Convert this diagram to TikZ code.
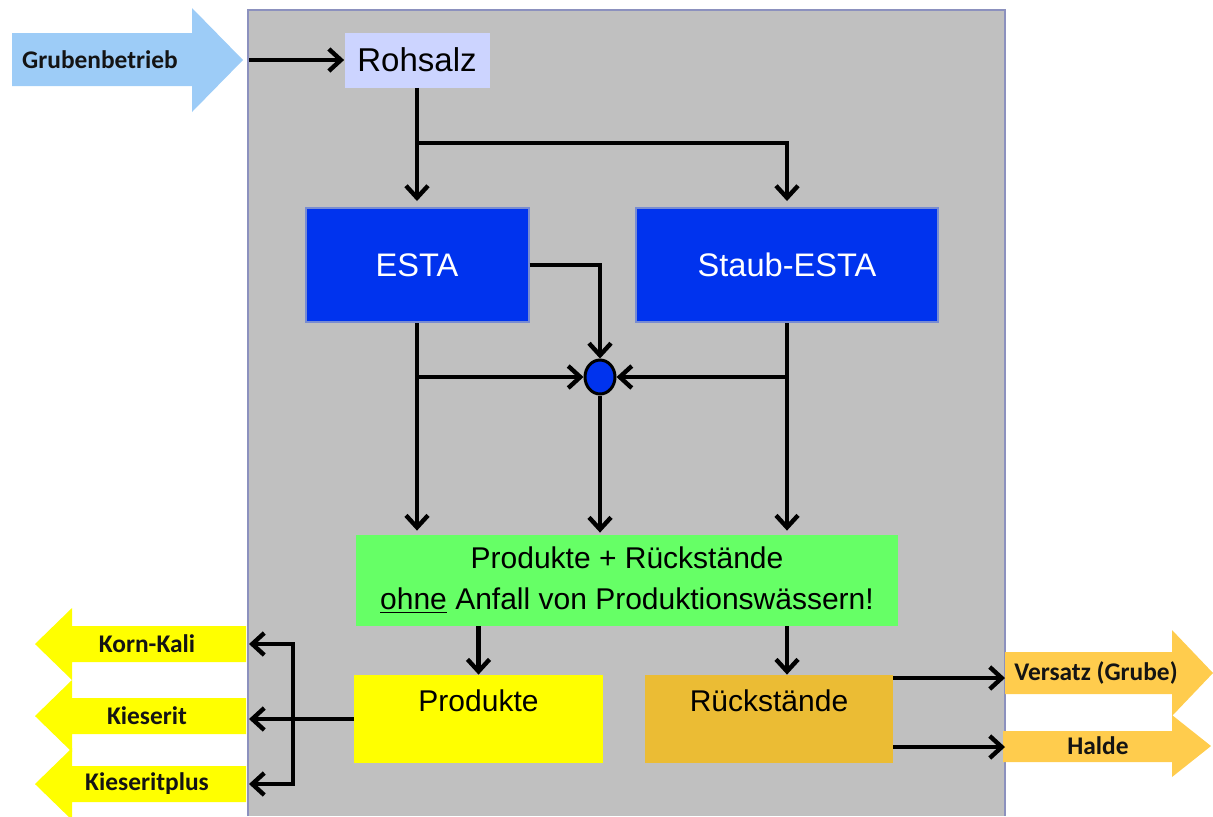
\documentclass[tikz,border=0pt]{standalone}
\usepackage{fontspec}
\setmainfont{Liberation Sans}
\newfontfamily\labelfont{Carlito}
\usepackage{tikz}
\usetikzlibrary{arrows.meta, shapes.geometric, positioning, calc}
\definecolor{panelgray}{RGB}{192,192,192}
\definecolor{frameedge}{RGB}{140,145,190}
\definecolor{inflow}{RGB}{157,204,247}
\definecolor{rohblue}{RGB}{204,212,255}
\definecolor{establue}{RGB}{0,51,238}
\definecolor{estaedge}{RGB}{120,140,210}
\definecolor{mixgreen}{RGB}{102,255,102}
\definecolor{prodyellow}{RGB}{255,255,0}
\definecolor{restgold}{RGB}{235,188,52}
\definecolor{outgold}{RGB}{255,204,77}
\definecolor{labeltext}{RGB}{20,20,20}

\begin{document}
\begin{tikzpicture}[x=0.5pt, y=-0.5pt,
    every node/.style={inner sep=0pt},
    flow/.style={line width=2.2pt, -{Straight Barb[length=6pt,width=11pt,line width=2.2pt]}},
    plain/.style={line width=2.2pt},
    unit/.style={rectangle, minimum height=57pt, fill=establue, draw=estaedge,
                 line width=1pt, text=white, font=\fontsize{16.3}{19}\selectfont},
    result/.style={rectangle, minimum width=124.5pt, text height=18pt, text depth=26pt,
                   font=\fontsize{15}{18}\selectfont},
    tag/.style={font=\labelfont\bfseries\fontsize{12.7}{15}\selectfont, text=labeltext}]

  \useasboundingbox (0,0) rectangle (1213,816);

  % Werk
  \fill[panelgray] (248,10) rectangle (1005,816);
  \draw[frameedge, line width=1pt] (248,816) -- (248,10) -- (1005,10) -- (1005,816);

  % Zulauf aus der Grube
  \fill[inflow] (12,33) -- (192,33) -- (192,8) -- (243,60) -- (192,112) -- (192,86) -- (12,86) -- cycle;
  \node[tag] (grube) at (100,60) {Grubenbetrieb};

  % Produkte nach links
  \foreach \n/\y/\txt in {korn/644/Korn-Kali, kies/716/Kieserit, kplus/784/Kieseritplus}{
    \fill[prodyellow] (246,{\y-18}) -- (72,{\y-18}) -- (72,{\y-36}) -- (35,\y)
      -- (72,{\y+36}) -- (72,{\y+18}) -- (246,{\y+18}) -- cycle;
    \node[tag] (\n) at (147,\y) {\txt};
  }

  % Rueckstaende nach rechts
  \fill[outgold] (1005,652) -- (1172,652) -- (1172,630) -- (1213,673) -- (1172,716) -- (1172,694) -- (1005,694) -- cycle;
  \node[tag] (versatz) at (1096,673) {Versatz (Grube)};
  \fill[outgold] (1003,731) -- (1172,731) -- (1172,715) -- (1211,746) -- (1172,777) -- (1172,762) -- (1003,762) -- cycle;
  \node[tag] (halde) at (1098,746) {Halde};

  % Anlagen
  \node[rectangle, fill=rohblue, minimum width=72.5pt, minimum height=27.5pt,
        font=\fontsize{16.5}{19}\selectfont] (rohsalz) at (417,60) {Rohsalz};
  \node[unit, minimum width=111.5pt] (esta) at (417,265) {ESTA};
  \node[unit, minimum width=151pt] (staub) at (787,265) {Staub-ESTA};
  \node[ellipse, fill=establue, draw=black, line width=1.5pt,
        minimum width=15pt, minimum height=17pt] (hub) at (600,377) {};
  \node[rectangle, fill=mixgreen, minimum width=271pt, minimum height=45.5pt, align=center,
        font=\fontsize{15}{20.5}\selectfont] (mix) at (627,580.5)
        {Produkte + Rückstände\\\underline{ohne} Anfall von Produktionswässern!};
  \node[result, fill=prodyellow] (prod) at (478.5,719) {Produkte};
  \node[result, fill=restgold, minimum width=124pt] (rueck) at (769,719) {Rückstände};

  % Verbindungen
  \coordinate (gin) at (249,60);
  \coordinate (split) at (417,143);
  \coordinate (fork) at (293,719);
  \coordinate (vin) at (1005,678);
  \coordinate (hin) at (1005,747);

  \draw[flow] (gin) -- (rohsalz.west);
  \draw[plain] (rohsalz.south) -- (split);
  \draw[flow, shorten >=3pt] (split) -- (esta.north);
  \draw[flow, shorten >=3pt] (split) -| (staub.north);

  \draw[flow] (esta.east) -| (hub.north);
  \draw[flow, shorten >=2pt] (esta.south) -- (esta.south |- mix.north);
  \draw[flow] (esta.south |- hub) -- (hub.west);
  \draw[flow, shorten >=2pt] (staub.south) -- (staub.south |- mix.north);
  \draw[flow] (staub.south |- hub) -- (hub.east);
  \draw[flow, shorten >=1pt] (hub.south) -- (hub.south |- mix.north);

  \draw[flow] (prod.north |- mix.south) -- (prod.north);
  \draw[flow] (staub.south |- mix.south) -- (staub.south |- rueck.north);

  \draw[flow] (prod.west) -- (prod.west -| gin);
  \draw[flow] (fork) |- (korn -| gin);
  \draw[flow] (fork) |- (kplus -| gin);

  \draw[flow] (rueck.east |- vin) -- (vin);
  \draw[flow] (rueck.east |- hin) -- (hin);
\end{tikzpicture}
\end{document}
